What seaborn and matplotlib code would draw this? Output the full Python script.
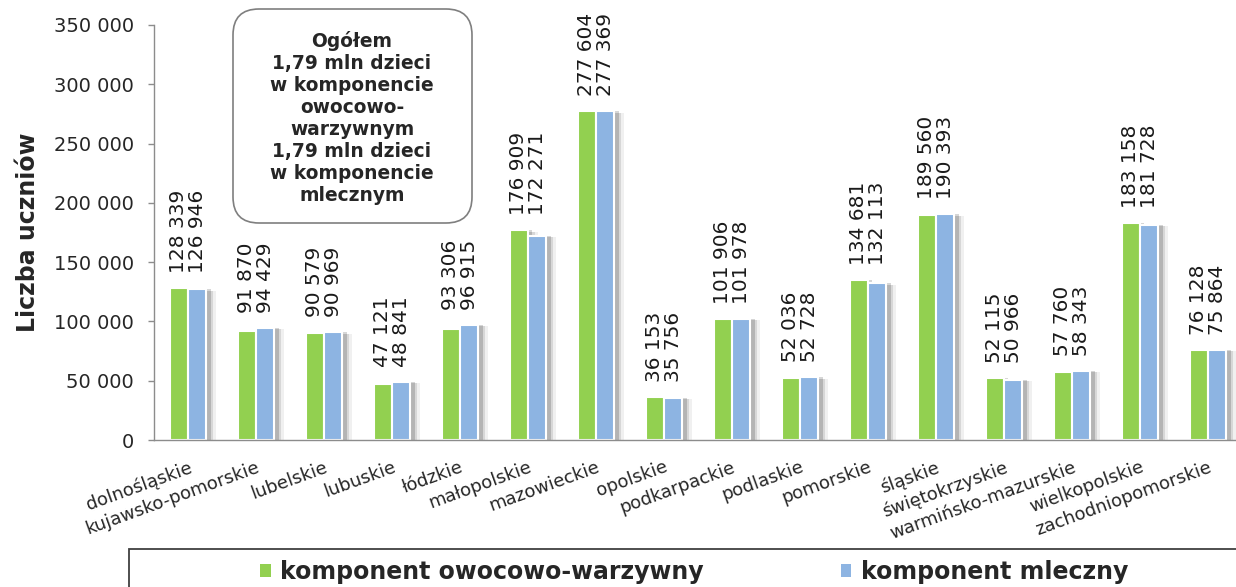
import numpy as np
import pandas as pd
import matplotlib
matplotlib.use("Agg")
import matplotlib.pyplot as plt
import matplotlib.patheffects as pe
from matplotlib.patches import FancyBboxPatch, Rectangle, Patch
from matplotlib.transforms import IdentityTransform
import seaborn as sns

regions = ["dolnośląskie", "kujawsko-pomorskie", "lubelskie", "lubuskie", "łódzkie",
           "małopolskie", "mazowieckie", "opolskie", "podkarpackie", "podlaskie",
           "pomorskie", "śląskie", "świętokrzyskie", "warmińsko-mazurskie",
           "wielkopolskie", "zachodniopomorskie"]
owocowo = [128339, 91870, 90579, 47121, 93306, 176909, 277604, 36153,
           101906, 52036, 134681, 189560, 52115, 57760, 183158, 76128]
mleczny = [126946, 94429, 90969, 48841, 96915, 172271, 277369, 35756,
           101978, 52728, 132113, 190393, 50966, 58343, 181728, 75864]
series_names = ["komponent owocowo-warzywny", "komponent mleczny"]
colors = ["#92D050", "#8DB4E2"]
yticks = [0, 50000, 100000, 150000, 200000, 250000, 300000, 350000]
ylabel = "Liczba uczniów"
box_text = ("Ogółem\n1,79 mln dzieci\nw komponencie\nowocowo-\nwarzywnym\n"
            "1,79 mln dzieci\nw komponencie\nmlecznym")


def fmt(v):
    return f"{v:,}".replace(",", " ")


df = pd.DataFrame({
    "region": regions * 2,
    "value": owocowo + mleczny,
    "komponent": [series_names[0]] * len(regions) + [series_names[1]] * len(regions),
})

sns.set_theme(style="white")
plt.rcParams["font.family"] = ["DejaVu Sans"]

W, H = 1236, 587
fig = plt.figure(figsize=(W / 100, H / 100), dpi=100)
ax = fig.add_axes([154 / W, (H - 440) / H, 1088 / W, 415 / H])

sns.barplot(data=df, x="region", y="value", hue="komponent", palette=colors,
            saturation=1, width=0.54, edgecolor="white", linewidth=1.5, ax=ax,
            legend=False)

for p in ax.patches:
    p.set_path_effects([
        pe.SimplePatchShadow(offset=(7, -1), shadow_rgbFace="#000000", alpha=0.06),
        pe.SimplePatchShadow(offset=(5, -1), shadow_rgbFace="#000000", alpha=0.10),
        pe.SimplePatchShadow(offset=(3, 0), shadow_rgbFace="#000000", alpha=0.16),
        pe.Normal(),
    ])

ax.set_xlim(-0.5, len(regions) - 0.5)
ax.set_ylim(0, 350000)
ax.set_yticks(yticks, [fmt(v) for v in yticks])
ax.set_xticks(range(len(regions)), regions, rotation=20, ha="right",
              rotation_mode="anchor")
ax.set_xticks(np.arange(-0.5, len(regions), 1), minor=True)
ax.tick_params(axis="x", which="major", length=0, pad=13, labelsize=13)
ax.tick_params(axis="x", which="minor", length=4.5, color="#8c8c8c", width=1)
ax.tick_params(axis="y", which="major", length=4.5, color="#8c8c8c", width=1,
               labelsize=14, pad=10, direction="out", left=True)
ax.set_xlabel("")
ax.set_ylabel(ylabel, fontsize=17, fontweight="bold")
ax.yaxis.set_label_coords(-0.105, 0.5)
for s in ["top", "right"]:
    ax.spines[s].set_visible(False)
for s in ["left", "bottom"]:
    ax.spines[s].set_color("#8c8c8c")
    ax.spines[s].set_linewidth(1)

for i, (a, b) in enumerate(zip(owocowo, mleczny)):
    ax.annotate(f"{fmt(a)}\n{fmt(b)}", xy=(i, max(a, b)), xytext=(0, 15),
                textcoords="offset pixels", rotation=90, ha="center", va="bottom",
                multialignment="left", fontsize=14.5, linespacing=1.0,
                color="#1a1a1a")

# annotation box
box = FancyBboxPatch((233, H - 223), 239, 214,
                     boxstyle="round,pad=0,rounding_size=26",
                     transform=IdentityTransform(), facecolor="white",
                     edgecolor="#7f7f7f", linewidth=1.2, zorder=5)
fig.add_artist(box)
fig.text(352 / W, 1 - 118 / H, box_text, ha="center", va="center",
         fontsize=13.4, fontweight="bold", linespacing=1.2, zorder=6)

# legend with frame
fig.add_artist(Rectangle((129 / W, -0.05), 1.0, (H - 549) / H + 0.05,
                         transform=fig.transFigure, fill=False,
                         edgecolor="#404040", linewidth=1.3))
handles = [Patch(facecolor=c, edgecolor="none") for c in colors]
fig.legend(handles, series_names, loc="center left",
           bbox_to_anchor=(260 / W, 1 - 572 / H), ncol=2, frameon=False,
           prop={"weight": "bold", "size": 17}, handlelength=0.45,
           handleheight=0.45, handletextpad=0.4, columnspacing=5.8,
           borderaxespad=0, borderpad=0)

fig.savefig("out.png", dpi=100)
